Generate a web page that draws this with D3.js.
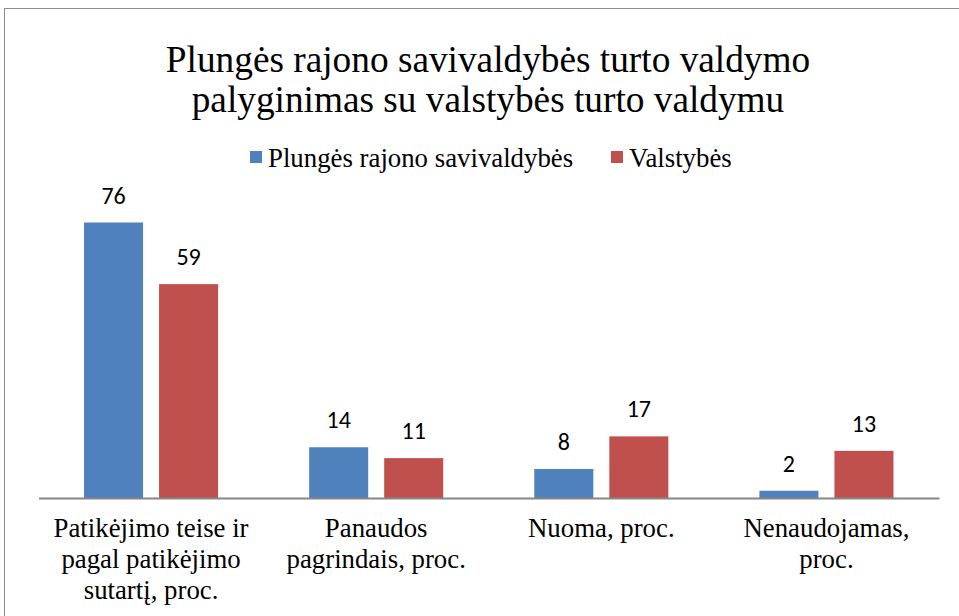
<!DOCTYPE html>
<html>
<head>
<meta charset="utf-8">
<script src="https://cdn.jsdelivr.net/npm/d3@7"></script>
<style>
  body { margin: 0; background: #fff; }
  svg { display: block; }
</style>
</head>
<body>
<svg id="chart" width="959" height="616"></svg>
<script>
// chart data
const titleLines = ['Plungės rajono savivaldybės turto valdymo', 'palyginimas su valstybės turto valdymu'];
const categories = [
  'Patikėjimo teise ir pagal patikėjimo sutartį, proc.',
  'Panaudos pagrindais, proc.',
  'Nuoma, proc.',
  'Nenaudojamas, proc.'
];
const seriesNames = ['Plungės rajono savivaldybės', 'Valstybės'];
const savivaldybesValues = [76, 14, 8, 2];
const valstybesValues = [59, 11, 17, 13];
const colors = ['#4F81BD', '#C0504D'];

const SERIF = "'Liberation Serif'";
const SANS = "'Carlito'";

let svg = d3.select('#chart');

// outer frame
svg.append('rect')
  .attr('x', 4.5).attr('y', 8.5)
  .attr('width', 970).attr('height', 620)
  .attr('fill', 'none')
  .attr('stroke', '#8c8c8c')
  .attr('stroke-width', 1);

// title
titleLines.forEach((l, i) => {
  svg.append('text')
    .attr('x', 488)
    .attr('y', 72 + i * 40)
    .attr('text-anchor', 'middle')
    .style('font-family', SERIF)
    .style('font-size', '37.3px')
    .attr('fill', '#000')
    .text(l);
});

// scales
let x0 = d3.scaleBand().domain(categories).range([38.5, 939]).padding(0);
let x1 = d3.scaleBand()
  .domain(seriesNames)
  .range([0, x0.bandwidth()])
  .paddingInner(16 / 75)
  .paddingOuter(0.6067);
let y = d3.scaleLinear().domain([0, 80]).range([498, 208]);

let rows = categories.map((c, i) => ({
  category: c,
  values: [savivaldybesValues[i], valstybesValues[i]]
}));

let groups = svg.selectAll('g.group')
  .data(rows)
  .enter()
  .append('g')
  .attr('class', 'group')
  .attr('transform', (d) => 'translate(' + x0(d.category) + ',0)');

groups.selectAll('rect')
  .data((d) => d.values.map((v, j) => ({ name: seriesNames[j], value: v, color: colors[j] })))
  .enter()
  .append('rect')
  .attr('x', (d) => x1(d.name))
  .attr('y', (d) => y(d.value))
  .attr('width', x1.bandwidth())
  .attr('height', (d) => y(0) - y(d.value))
  .attr('fill', (d) => d.color);

// value labels
groups.selectAll('text.value')
  .data((d) => d.values.map((v, j) => ({ name: seriesNames[j], value: v })))
  .enter()
  .append('text')
  .attr('class', 'value')
  .attr('x', (d) => x1(d.name) + x1.bandwidth() / 2)
  .attr('y', (d) => y(d.value) - 19)
  .attr('text-anchor', 'middle')
  .style('font-family', SANS)
  .style('font-size', '24px')
  .attr('fill', '#000')
  .text((d) => d.value);

// category axis
let xAxis = svg.append('g')
  .attr('transform', 'translate(0,' + y(0) + ')')
  .call(d3.axisBottom(x0).tickSize(0).tickPadding(0));
xAxis.select('.domain').attr('stroke', '#868686').attr('stroke-width', 2);
xAxis.selectAll('.tick text').remove();

// wrapped category labels
categories.forEach((c) => {
  let t = svg.append('text')
    .attr('text-anchor', 'middle')
    .style('font-family', SERIF)
    .style('font-size', '26.8px')
    .attr('fill', '#000');
  let words = c.split(' ');
  let lines = [];
  let line = [];
  words.forEach((w) => {
    line.push(w);
    t.text(line.join(' '));
    if (t.node().getComputedTextLength() > 205 && line.length > 1) {
      line.pop();
      lines.push(line.join(' '));
      line = [w];
    }
  });
  lines.push(line.join(' '));
  t.text(null);
  lines.forEach((l, i) => {
    t.append('tspan')
      .attr('x', x0(c) + x0.bandwidth() / 2)
      .attr('y', 537 + i * 31)
      .text(l);
  });
});

// legend
let legendX = [250, 611];
seriesNames.forEach((name, i) => {
  svg.append('rect')
    .attr('x', legendX[i]).attr('y', 151)
    .attr('width', 12).attr('height', 12)
    .attr('fill', colors[i]);
  svg.append('text')
    .attr('x', legendX[i] + 18)
    .attr('y', 167)
    .style('font-family', SERIF)
    .style('font-size', '26.8px')
    .attr('fill', '#000')
    .text(name);
});
</script>
</body>
</html>
